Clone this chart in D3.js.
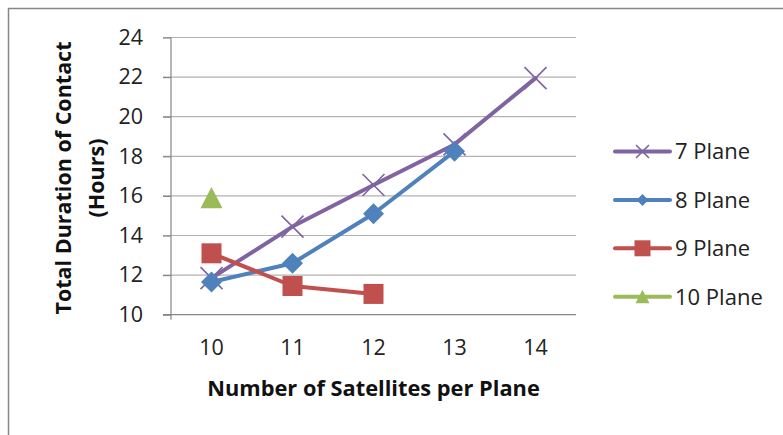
<!DOCTYPE html>
<html>
<head>
<meta charset="utf-8">
<script src="https://cdn.jsdelivr.net/npm/d3@7"></script>
<style>
  html, body { margin: 0; padding: 0; background: #fff; }
  svg { display: block; font-family: "Open Sans", sans-serif; }
</style>
</head>
<body>
<svg id="chart" width="783" height="435"></svg>
<script>
// Satellites per plane (x categories)
const categories = ["10", "11", "12", "13", "14"];
// Total duration of contact in hours, one list per constellation size
const plane7 = [11.85, 14.45, 16.55, 18.6, 21.95];
const plane8 = [11.65, 12.6, 15.1, 18.25];
const plane9 = [13.1, 11.45, 11.05];
const plane10 = [15.9];
const seriesNames = ["7 Plane", "8 Plane", "9 Plane", "10 Plane"];
const yTicks = [10, 12, 14, 16, 18, 20, 22, 24];

const seriesValues = [plane7, plane8, plane9, plane10];
const colors = ["#8064A2", "#4F81BD", "#C0504D", "#9BBB59"];
const markers = ["x", "diamond", "square", "triangle"];

const svg = d3.select("#chart");

// outer chart frame
svg.append("rect")
  .attr("x", 8.5).attr("y", 8.5)
  .attr("width", 800).attr("height", 450)
  .attr("fill", "#fff")
  .attr("stroke", "#868686").attr("stroke-width", 1.5);

const plot = { left: 171, right: 576, top: 37.5, bottom: 314.7 };

const x = d3.scaleBand().domain(categories).range([plot.left, plot.right]);
const cx = c => x(c) + x.bandwidth() / 2;
const y = d3.scaleLinear().domain([10, 24]).range([plot.bottom, plot.top]);

// horizontal gridlines
svg.append("g")
  .selectAll("line")
  .data(yTicks.filter(t => t !== 10))
  .join("line")
  .attr("x1", plot.left - 8).attr("x2", plot.right)
  .attr("y1", d => y(d)).attr("y2", d => y(d))
  .attr("stroke", "#B2B2B2").attr("stroke-width", 1.2);

// y axis
const yAxis = d3.axisLeft(y).tickValues(yTicks).tickSize(8).tickPadding(20);
const gy = svg.append("g").attr("transform", `translate(${plot.left},0)`).call(yAxis);
gy.select(".domain").attr("stroke", "#868686").attr("stroke-width", 1.2)
  .attr("d", `M0,${plot.top}V${plot.bottom + 5}`);
gy.selectAll(".tick line").attr("stroke", "#868686").attr("stroke-width", 1.2);
gy.selectAll(".tick text")
  .attr("font-family", "Open Sans").attr("font-size", 21.5).attr("fill", "#222");

// x axis
const xAxis = d3.axisBottom(x).tickSize(0).tickPadding(25);
const gx = svg.append("g").attr("transform", `translate(0,${plot.bottom})`).call(xAxis);
gx.select(".domain").attr("stroke", "#868686").attr("stroke-width", 1.2)
  .attr("d", `M${plot.left - 8},0H${plot.right}`);
gx.selectAll(".tick text")
  .attr("font-family", "Open Sans").attr("font-size", 21.5).attr("fill", "#222");

// axis titles
svg.append("text")
  .attr("x", (plot.left + plot.right) / 2).attr("y", 396)
  .attr("text-anchor", "middle")
  .attr("font-weight", "bold").attr("font-size", 21.8).attr("fill", "#111")
  .text("Number of Satellites per Plane");

const yTitle = svg.append("text")
  .attr("transform", "translate(64,178) rotate(-90)")
  .attr("text-anchor", "middle")
  .attr("font-weight", "bold").attr("font-size", 21.5).attr("fill", "#111");
yTitle.append("tspan").attr("x", 0).attr("y", 7).text("Total Duration of Contact");
yTitle.append("tspan").attr("x", 0).attr("y", 40).text("(Hours)");

// marker drawing
function drawMarker(g, type, color, px, py, s) {
  if (type === "x") {
    const h = s / 2;
    g.append("path")
      .attr("d", `M${px - h},${py - h}L${px + h},${py + h}M${px - h},${py + h}L${px + h},${py - h}`)
      .attr("stroke", color).attr("stroke-width", 1.6).attr("fill", "none");
  } else if (type === "diamond") {
    const h = s / 2;
    g.append("path")
      .attr("d", `M${px},${py - h}L${px + h},${py}L${px},${py + h}L${px - h},${py}Z`)
      .attr("fill", color);
  } else if (type === "square") {
    g.append("rect")
      .attr("x", px - s / 2).attr("y", py - s / 2)
      .attr("width", s).attr("height", s)
      .attr("fill", color);
  } else if (type === "triangle") {
    const h = s / 2;
    g.append("path")
      .attr("d", `M${px},${py - h}L${px + h},${py + h * 0.95}L${px - h},${py + h * 0.95}Z`)
      .attr("fill", color);
  }
}

const markerSize = { x: 22, diamond: 21, square: 20, triangle: 22 };
const line = d3.line().x((d, i) => cx(categories[i])).y(d => y(d));

seriesValues.forEach((vals, si) => {
  const g = svg.append("g");
  if (vals.length > 1) {
    g.append("path")
      .datum(vals)
      .attr("d", line)
      .attr("fill", "none")
      .attr("stroke", colors[si])
      .attr("stroke-width", 4)
      .attr("stroke-linejoin", "round")
      .attr("stroke-linecap", "round");
  }
  vals.forEach((v, i) => {
    drawMarker(g, markers[si], colors[si], cx(categories[i]), y(v), markerSize[markers[si]]);
  });
});

// legend
const legendSize = { x: 13, diamond: 12, square: 16, triangle: 14 };
const legend = svg.append("g");
seriesNames.forEach((name, i) => {
  const ly = 151.5 + i * 48.4;
  const g = legend.append("g");
  g.append("line")
    .attr("x1", 615).attr("x2", 670).attr("y1", ly).attr("y2", ly)
    .attr("stroke", colors[i]).attr("stroke-width", 4).attr("stroke-linecap", "round");
  drawMarker(g, markers[i], colors[i], 642.5, ly, legendSize[markers[i]]);
  g.append("text")
    .attr("x", 675).attr("y", ly).attr("dy", "0.36em")
    .attr("font-size", 22).attr("fill", "#222")
    .text(name);
});
</script>
</body>
</html>
